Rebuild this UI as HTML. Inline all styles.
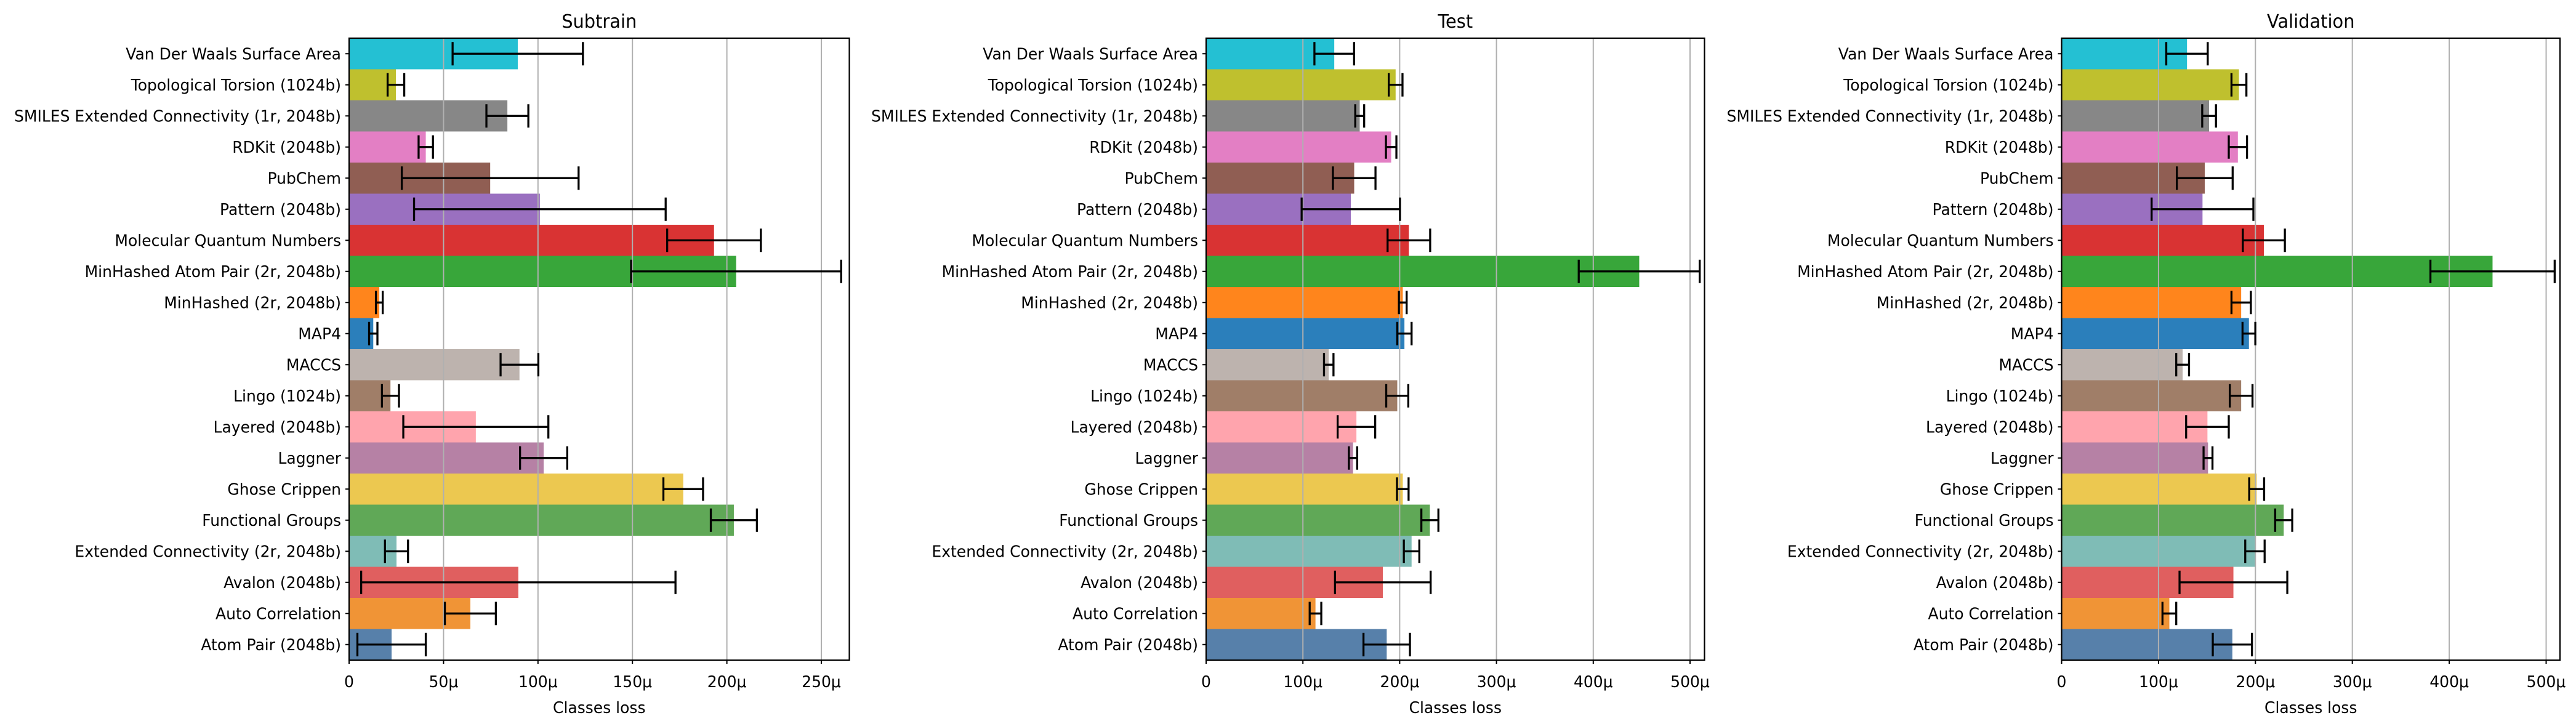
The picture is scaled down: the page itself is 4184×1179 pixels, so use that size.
<!DOCTYPE html>
<html><head><meta charset="utf-8"><style>
html,body{margin:0;padding:0;background:#fff;}
svg{display:block;font-family:"DejaVu Sans","Liberation Sans",sans-serif;}
</style></head><body>
<svg id="chart" width="4184" height="1179" viewBox="0 0 4184 1179" xmlns="http://www.w3.org/2000/svg"></svg>
<script>
const categories = ["Van Der Waals Surface Area","Topological Torsion (1024b)","SMILES Extended Connectivity (1r, 2048b)","RDKit (2048b)","PubChem","Pattern (2048b)","Molecular Quantum Numbers","MinHashed Atom Pair (2r, 2048b)","MinHashed (2r, 2048b)","MAP4","MACCS","Lingo (1024b)","Layered (2048b)","Laggner","Ghose Crippen","Functional Groups","Extended Connectivity (2r, 2048b)","Avalon (2048b)","Auto Correlation","Atom Pair (2048b)"];
const colors = ["#24c0d3","#bfc02e","#878787","#e37fc4","#905e53","#9a70c0","#d93333","#38a63a","#ff851c","#2b7fbb","#bdb3ae","#a07e68","#ffa4ad","#b681a5","#ecc850","#60a857","#7fbcb6","#e05f5f","#f09436","#5780aa"];
const subtrainValues = [89.3,24.8,83.8,40.6,74.7,101,193.2,204.9,16,12.8,90.2,21.9,67.1,103,176.9,203.7,25.1,89.6,64.2,22.5];
const subtrainErrors = [34.5,4.4,11.1,3.8,46.8,66.6,24.8,55.6,1.8,2.2,10,4.5,38.4,12.5,10.5,12.2,6.1,83.2,13.5,18.1];
const testValues = [132.4,195.8,158.7,191.2,153,149.5,209.5,447.5,203.2,204.9,126.7,197.5,155.3,151.8,203.2,231.2,212.3,182.6,113,186.6];
const testErrors = [20.5,7.1,4.6,5.4,22,50.8,22,62.5,4,7.4,4.9,11.4,19.4,4.3,6,8.8,8,49.4,6,24];
const validationValues = [129.4,183,152.2,181.9,147.7,145.4,208.7,444.7,185.3,193.3,124.9,185.3,150.5,151.1,201.3,229.2,199.5,177.3,111.2,176.2];
const validationErrors = [21.4,7.7,7.1,9.4,28.8,52.5,21.7,64.1,10,6.6,6.6,11.7,22,4.6,7.7,8.8,10,55.6,7.1,20.2];
const subtrainTicks = [0,50,100,150,200,250];
const testTicks = [0,100,200,300,400,500];
const validationTicks = [0,100,200,300,400,500];

const NS = "http://www.w3.org/2000/svg";
const svg = document.getElementById("chart");
function mk(tag, attrs, parent){
  const e = document.createElementNS(NS, tag);
  for (const k in attrs) e.setAttribute(k, attrs[k]);
  (parent||svg).appendChild(e);
  return e;
}
const TOP = 62, BOTTOM = 1072;
const texts = [];
const panels = [
  {key:"subtrain", title:"Subtrain", left:567, right:1379.5, pxPerUnit:3.068, values:subtrainValues, errors:subtrainErrors, ticks:subtrainTicks},
  {key:"test", title:"Test", left:1959, right:2768.5, pxPerUnit:1.572, values:testValues, errors:testErrors, ticks:testTicks},
  {key:"validation", title:"Validation", left:3348.5, right:4158, pxPerUnit:1.574, values:validationValues, errors:validationErrors, ticks:validationTicks}
];
let refLabel = null;
panels.forEach(p => {
  const g = mk("g", {});
  
  
  const xs = v => p.left + v * p.pxPerUnit;
  const n = categories.length;
  const pitch = (BOTTOM - TOP) / n;
  const ys = i => TOP + i * pitch;
  categories.forEach((c, i) => {
    const r = mk("rect", {x:xs(0), y:ys(i), width:Math.max(0, xs(p.values[i]) - xs(0)), height:pitch, fill:colors[i]}, g);
    
    
  });
  p.ticks.forEach(t => {
    const x = xs(t);
    if (x > p.right + 1) return;
    const l = mk("line", {x1:x, x2:x, y1:TOP, y2:BOTTOM, stroke:"#b0b0b0", "stroke-width":2}, g);
    
    
  });
  categories.forEach((c, i) => {
    const cy = ys(i) + pitch / 2;
    const lo = xs(p.values[i] - p.errors[i]), hi = xs(p.values[i] + p.errors[i]);
    const eg = mk("g", {stroke:"#000", "stroke-width":3.3}, g);
    
    
    mk("line", {x1:lo, x2:hi, y1:cy, y2:cy}, eg);
    mk("line", {x1:lo, x2:lo, y1:cy-19, y2:cy+19}, eg);
    mk("line", {x1:hi, x2:hi, y1:cy-19, y2:cy+19}, eg);
  });
  const sp = mk("rect", {x:p.left, y:TOP, width:p.right - p.left, height:BOTTOM - TOP, fill:"none", stroke:"#000", "stroke-width":2.2}, g);
  
  
  categories.forEach((c, i) => {
    const cy = ys(i) + pitch / 2;
    mk("line", {x1:p.left - 6, x2:p.left, y1:cy, y2:cy, stroke:"#000", "stroke-width":2}, g);
    const t = mk("text", {x:p.left - 13, y:cy + 9, "text-anchor":"end", "font-size":26, fill:"#000"}, g);
    t.textContent = c;
    
    
    texts.push(t);
    if (i === 2 && !refLabel) refLabel = t;
  });
  p.ticks.forEach(t => {
    const x = xs(t);
    mk("line", {x1:x, x2:x, y1:BOTTOM, y2:BOTTOM + 6, stroke:"#000", "stroke-width":2}, g);
    const tx = mk("text", {x:x, y:1116, "text-anchor":"middle", "font-size":26, fill:"#000"}, g);
    tx.textContent = t === 0 ? "0" : t + "\u03bc";
    
    
    texts.push(tx);
  });
  const xl = mk("text", {x:(p.left + p.right) / 2, y:1158, "text-anchor":"middle", "font-size":26, fill:"#000"}, g);
  xl.textContent = "Classes loss";
  
  
  texts.push(xl);
  const ti = mk("text", {x:(p.left + p.right) / 2, y:45, "text-anchor":"middle", "font-size":30, fill:"#000"}, g);
  ti.textContent = p.title;
  
  
  texts.push(ti);
});
try {
  const measured = refLabel.getComputedTextLength();
  const factor = measured > 0 ? 531 / measured : 1;
  if (Math.abs(factor - 1) > 0.02) {
    texts.forEach(t => {
      const w = t.getComputedTextLength();
      t.setAttribute("textLength", (w * factor).toFixed(1));
      t.setAttribute("lengthAdjust", "spacingAndGlyphs");
    });
  }
} catch (e) {}
</script>
</body></html>
